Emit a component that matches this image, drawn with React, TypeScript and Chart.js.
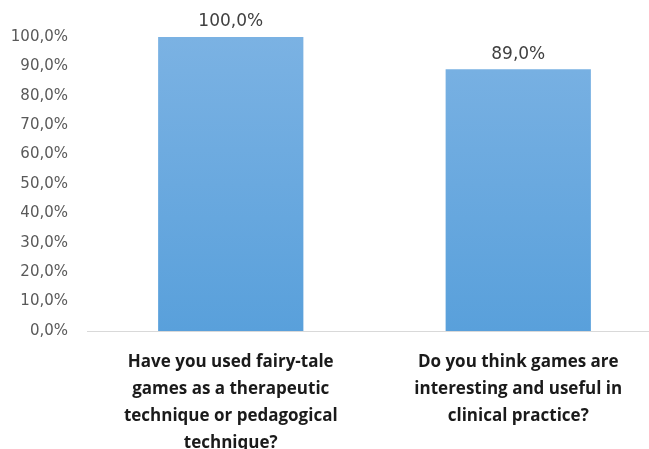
import React, { useEffect, useRef } from "react";
import { Chart, registerables } from "chart.js";

Chart.register(...registerables);

const categories: string[][] = [
  ["Have you used fairy-tale", "games as a therapeutic", "technique or pedagogical", "technique?"],
  ["Do you think games are", "interesting and useful in", "clinical practice?"],
];
const values: number[] = [100.0, 89.0];
const yTicks: number[] = [0, 10, 20, 30, 40, 50, 60, 70, 80, 90, 100];

const fmt = (v: number) => v.toFixed(1).replace(".", ",") + "%";

export default function App() {
  const ref = useRef<HTMLCanvasElement | null>(null);
  useEffect(() => {
    document.body.style.margin = "0";
    document.body.style.overflow = "hidden";
    const canvas = ref.current!;
    const labelPlugin = {
      id: "valueLabels",
      afterDatasetsDraw(chart: any) {
        const ctx = chart.ctx;
        const meta = chart.getDatasetMeta(0);
        ctx.save();
        ctx.fillStyle = "#404040";
        ctx.font = "17px 'DejaVu Sans'";
        ctx.textAlign = "center";
        ctx.textBaseline = "middle";
        meta.data.forEach((bar: any, i: number) => {
          ctx.fillText(fmt(values[i]), bar.x, bar.y - 15);
        });
        ctx.restore();
      },
    };
    const chart = new Chart(canvas, {
      type: "bar",
      data: {
        labels: categories,
        datasets: [
          {
            data: values,
            backgroundColor: (c: any) => {
              const area = c.chart.chartArea;
              if (!area) return "#6aa9e0";
              const g = c.chart.ctx.createLinearGradient(0, area.top, 0, area.bottom);
              g.addColorStop(0, "#7bb2e3");
              g.addColorStop(1, "#59a0db");
              return g;
            },
            barPercentage: 1,
            categoryPercentage: 145 / 287,
          },
        ],
      },
      options: {
        responsive: false,
        animation: false,
        layout: { padding: { top: 37, left: 0, right: 0, bottom: 0 } },
        plugins: { legend: { display: false }, tooltip: { enabled: false } },
        scales: {
          x: {
            grid: { display: false, drawTicks: false },
            border: { display: true, color: "#d9d9d9", width: 1 },
            ticks: {
              color: "#1a1a1a",
              font: { family: "'Open Sans'", size: 17, weight: "bold", lineHeight: 1.59 },
              padding: 18,
              maxRotation: 0,
              autoSkip: false,
            },
            afterFit: (s: any) => {
              s.height = 118;
            },
          },
          y: {
            min: 0,
            max: 100,
            afterBuildTicks: (s: any) => {
              s.ticks = yTicks.map((v) => ({ value: v }));
            },
            grid: { display: false, drawTicks: false },
            border: { display: false },
            ticks: {
              color: "#595959",
              font: { family: "'DejaVu Sans'", size: 15 },
              padding: 19,
              callback: (v: any) => fmt(Number(v)),
            },
            afterFit: (s: any) => {
              s.width = 87;
            },
          },
        },
      },
      plugins: [labelPlugin],
    });
    return () => chart.destroy();
  }, []);
  return (
    <div style={{ position: "fixed", left: 0, top: 0, width: 649, height: 449, overflow: "hidden", background: "#fff" }}>
      <canvas ref={ref} width={662} height={449} style={{ width: 662, height: 449, display: "block" }} />
    </div>
  );
}
